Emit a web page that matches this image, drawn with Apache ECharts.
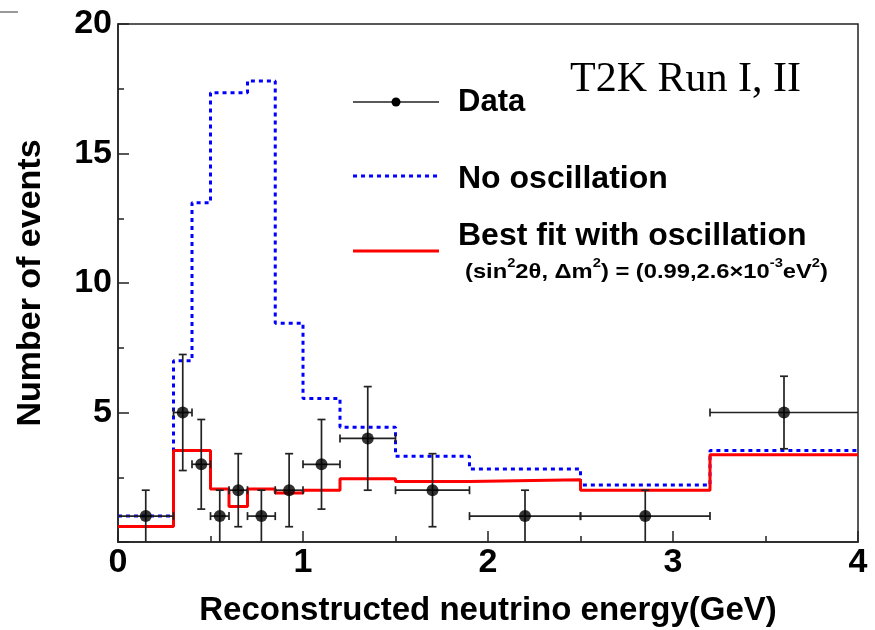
<!DOCTYPE html>
<html><head><meta charset="utf-8">
<script src="https://cdn.jsdelivr.net/npm/echarts@6/dist/echarts.min.js"></script>
<style>html,body{margin:0;padding:0;background:#fff}#c{width:875px;height:630px}</style>
</head><body><div id="c"></div>
<script>
// ---- data ----
const binEdges = [0, 0.3, 0.4, 0.5, 0.6, 0.7, 0.85, 1.0, 1.2, 1.5, 1.9, 2.5, 3.2, 4.0];
const noOscValues = [1.0, 7.0, 13.1, 17.35, 17.35, 17.8, 8.45, 5.54, 4.43, 3.31, 2.82, 2.2, 3.53];
const bestFitValues = [0.6, 3.53, 3.53, 2.05, 1.37, 2.05, 1.89, 2.0, 2.44, 2.34, 2.4, 2.0, 3.37];
const dataX = [0.15, 0.35, 0.45, 0.55, 0.65, 0.775, 0.925, 1.1, 1.35, 1.7, 2.2, 2.85, 3.6];
const dataY = [1, 5, 3, 1, 2, 1, 2, 3, 4, 2, 1, 1, 5];
const dataXLow = [0, 0.3, 0.4, 0.5, 0.6, 0.7, 0.85, 1.0, 1.2, 1.5, 1.9, 2.5, 3.2];
const dataXHigh = [0.3, 0.4, 0.5, 0.6, 0.7, 0.85, 1.0, 1.2, 1.5, 1.9, 2.5, 3.2, 4.0];
const dataYLow = [0, 2.76, 1.27, 0, 0.59, 0, 0.59, 1.27, 2, 0.59, 0, 0, 3.6];
const dataYHigh = [2, 7.24, 4.73, 2, 3.41, 2, 3.41, 4.73, 6, 3.41, 2, 2, 6.4];
const xRange = [0, 4];
const yRange = [0, 20];
const legendLabels = ['Data', 'No oscillation', 'Best fit with oscillation'];
const xTitle = 'Reconstructed neutrino energy(GeV)';
const yTitle = 'Number of events';
const runLabel = 'T2K Run I, II';

// ---- build ----
function histPoints(values) {
  return binEdges.map((e, i) => [e, values[Math.min(i, values.length - 1)]]);
}
const errData = dataX.map((x, i) => [x, dataY[i], dataXLow[i], dataXHigh[i], dataYLow[i], dataYHigh[i]]);
const pts = dataX.map((x, i) => [x, dataY[i]]);

const SANS = '"Liberation Sans", Arial, sans-serif';
const AX = '#222';

const chart = echarts.init(document.getElementById('c'), null, {renderer: 'canvas'});
const axisCommon = {
  type: 'value',
  axisLine: {show: true, onZero: false, lineStyle: {color: AX, width: 1.5}},
  axisTick: {show: true, inside: true, length: 11, lineStyle: {color: AX, width: 1.5}},
  minorTick: {show: true, splitNumber: 2, length: 6, lineStyle: {color: AX, width: 1.5}},
  splitLine: {show: false},
  axisLabel: {fontSize: 34, fontWeight: 'bold', fontFamily: SANS, color: '#000'},
  nameLocation: 'middle',
  nameTextStyle: {fontSize: 33, fontWeight: 'bold', fontFamily: SANS, color: '#000'}
};

chart.setOption({
  animation: false,
  backgroundColor: '#fff',
  grid: {left: 118, right: 17, top: 24, bottom: 88, show: true, borderColor: AX, borderWidth: 1.5, containLabel: false, outerBoundsMode: 'none'},
  xAxis: Object.assign({}, axisCommon, {
    min: xRange[0], max: xRange[1], interval: 1,
    name: xTitle, nameGap: 52,
    axisLabel: Object.assign({}, axisCommon.axisLabel, {margin: 4})
  }),
  yAxis: Object.assign({}, axisCommon, {
    min: yRange[0], max: yRange[1], interval: 5,
    name: yTitle, nameGap: 70, nameRotate: 90,
    nameTextStyle: Object.assign({}, axisCommon.nameTextStyle, {fontSize: 34}),
    axisLabel: Object.assign({}, axisCommon.axisLabel, {margin: 6, showMinLabel: false,
      formatter: v => (v === 0 ? '' : String(v))})
  }),
  series: [
    {
      name: legendLabels[1], type: 'line', step: 'end', data: histPoints(noOscValues),
      symbol: 'none', lineStyle: {color: '#0000ff', width: 3, type: [4, 4]}, z: 2
    },
    {
      name: legendLabels[2], type: 'line', step: 'end', data: histPoints(bestFitValues),
      symbol: 'none', lineStyle: {color: '#ff0000', width: 3}, z: 3
    },
    {
      name: legendLabels[0] + ' errors', type: 'custom', data: errData, z: 4,
      encode: {x: 0, y: 1},
      renderItem: function (params, api) {
        const x = api.value(0), y = api.value(1);
        const xl = api.value(2), xh = api.value(3), yl = api.value(4), yh = api.value(5);
        const l = api.coord([xl, y]), r = api.coord([xh, y]);
        const b = api.coord([x, yl]), t = api.coord([x, yh]);
        const st = {stroke: '#222', lineWidth: 1.7};
        const cap = 4;
        const ch = [
          {type: 'line', shape: {x1: l[0], y1: l[1], x2: r[0], y2: r[1]}, style: st},
          {type: 'line', shape: {x1: b[0], y1: b[1], x2: t[0], y2: t[1]}, style: st},
          {type: 'line', shape: {x1: t[0] - cap, y1: t[1], x2: t[0] + cap, y2: t[1]}, style: st}
        ];
        if (yl > yRange[0]) ch.push({type: 'line', shape: {x1: b[0] - cap, y1: b[1], x2: b[0] + cap, y2: b[1]}, style: st});
        if (xl > xRange[0]) ch.push({type: 'line', shape: {x1: l[0], y1: l[1] - cap, x2: l[0], y2: l[1] + cap}, style: st});
        if (xh < xRange[1]) ch.push({type: 'line', shape: {x1: r[0], y1: r[1] - cap, x2: r[0], y2: r[1] + cap}, style: st});
        return {type: 'group', children: ch};
      }
    },
    {
      name: legendLabels[0], type: 'scatter', data: pts, symbol: 'circle', symbolSize: 12,
      itemStyle: {color: '#000'}, z: 5
    }
  ],
  graphic: [
    {type: 'line', shape: {x1: 0, y1: 12, x2: 18, y2: 12}, style: {stroke: '#333', lineWidth: 1}},
    {type: 'line', shape: {x1: 353, y1: 102, x2: 439, y2: 102}, style: {stroke: '#222', lineWidth: 1.5}},
    {type: 'circle', shape: {cx: 396, cy: 102, r: 4.5}, style: {fill: '#000'}},
    {type: 'line', shape: {x1: 353, y1: 176, x2: 439, y2: 176}, style: {stroke: '#0000ff', lineWidth: 3, lineDash: [4, 4]}},
    {type: 'line', shape: {x1: 353, y1: 251, x2: 439, y2: 251}, style: {stroke: '#ff0000', lineWidth: 3}},
    {type: 'text', x: 458, y: 102, style: {text: legendLabels[0], font: 'bold 31px ' + SANS, fill: '#000', verticalAlign: 'middle'}},
    {type: 'text', x: 458, y: 179, style: {text: legendLabels[1], font: 'bold 32px ' + SANS, fill: '#000', verticalAlign: 'middle'}},
    {type: 'text', x: 458, y: 236, style: {text: legendLabels[2], font: 'bold 32px ' + SANS, fill: '#000', verticalAlign: 'middle'}},
    {type: 'text', x: 465, y: 270, scaleX: 1.13, style: {
      text: '{a|(sin}{s|2}{a|2θ, Δm}{s|2}{a|) = (0.99,2.6×10}{s|-3}{a|eV}{s|2}{a|)}',
      rich: {
        a: {font: 'bold 21px ' + SANS, fill: '#000', lineHeight: 26, verticalAlign: 'bottom'},
        s: {font: 'bold 13px ' + SANS, fill: '#000', lineHeight: 26, verticalAlign: 'top'}
      },
      verticalAlign: 'middle'
    }},
    {type: 'text', x: 570, y: 80, style: {text: runLabel, font: 'normal 42px "Liberation Serif", "Times New Roman", serif', fill: '#000', verticalAlign: 'middle'}}
  ]
});
</script>
</body></html>
